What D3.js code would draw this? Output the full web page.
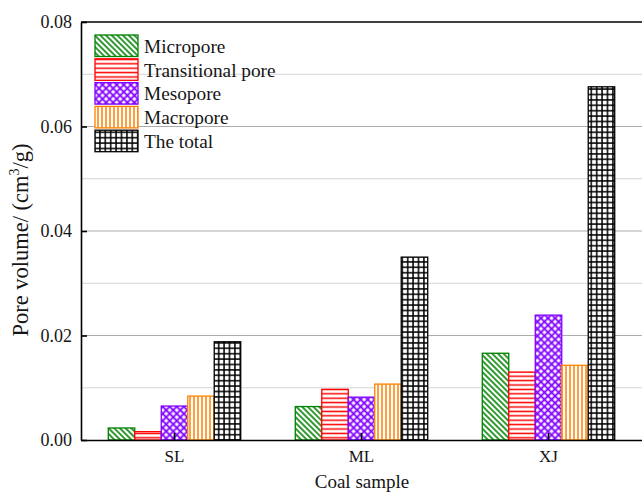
<!DOCTYPE html>
<html><head><meta charset="utf-8">
<script src="https://cdn.jsdelivr.net/npm/d3@7"></script>
<style>
body{margin:0;background:#fff}
svg, svg text{font-family:"Times New Roman","Liberation Serif",Tinos,Times,"DejaVu Serif","Noto Serif",serif !important}
</style></head><body>
<script>
const categories = ["SL", "ML", "XJ"];
const seriesNames = ["Micropore", "Transitional pore", "Mesopore", "Macropore", "The total"];
const micropore = [0.0023, 0.0064, 0.0166];
const transitional = [0.0016, 0.0097, 0.0130];
const mesopore = [0.0065, 0.0082, 0.0239];
const macropore = [0.0084, 0.0107, 0.0143];
const total = [0.0188, 0.0350, 0.0676];
const yTicks = [0, 0.02, 0.04, 0.06, 0.08];
const yMinor = [0.01, 0.03, 0.05, 0.07];
const colors = ["#008000", "#ff0000", "#8000ff", "#ff8000", "#000000"];
const xTitle = "Coal sample";

const seriesValues = [micropore, transitional, mesopore, macropore, total];

const W = 642, H = 492;
const mLeft = 81, mRight = 643, mTop = 22, mBottom = 440;

const svg = d3.select("body").append("svg").attr("width", W).attr("height", H);
const defs = svg.append("defs");

function pat(id, size, rot) {
  const p = defs.append("pattern").attr("id", id).attr("patternUnits", "userSpaceOnUse")
    .attr("width", size).attr("height", size);
  if (rot) p.attr("patternTransform", `rotate(${rot})`);
  p.append("rect").attr("width", size).attr("height", size).attr("fill", "#fff");
  return p;
}
let p0 = pat("p0", 4, -45);
p0.append("line").attr("x1", 2).attr("y1", -1).attr("x2", 2).attr("y2", 5).attr("stroke", colors[0]).attr("stroke-width", 1.6);
let p1 = pat("p1", 4.4, 0);
p1.append("line").attr("x1", -1).attr("y1", 2.2).attr("x2", 6).attr("y2", 2.2).attr("stroke", colors[1]).attr("stroke-width", 1.5);
let p2 = pat("p2", 5, 45);
p2.append("line").attr("x1", 2.5).attr("y1", -1).attr("x2", 2.5).attr("y2", 6).attr("stroke", colors[2]).attr("stroke-width", 1.8);
p2.append("line").attr("x1", -1).attr("y1", 2.5).attr("x2", 6).attr("y2", 2.5).attr("stroke", colors[2]).attr("stroke-width", 1.8);
let p3 = pat("p3", 4, 0);
p3.append("line").attr("x1", 2).attr("y1", -1).attr("x2", 2).attr("y2", 5).attr("stroke", colors[3]).attr("stroke-width", 1.5);
let p4 = pat("p4", 5.4, 0);
p4.append("line").attr("x1", 2.7).attr("y1", -1).attr("x2", 2.7).attr("y2", 7).attr("stroke", colors[4]).attr("stroke-width", 1.5);
p4.append("line").attr("x1", -1).attr("y1", 2.7).attr("x2", 7).attr("y2", 2.7).attr("stroke", colors[4]).attr("stroke-width", 1.5);

const y = d3.scaleLinear().domain([0, 0.08]).range([mBottom, mTop]);
const x0 = d3.scaleBand().domain(categories).range([mLeft, 642]).paddingInner(0).paddingOuter(0);
const x1 = d3.scaleBand().domain(seriesNames).range([0, x0.bandwidth()]).paddingInner(0).paddingOuter(1.03);

svg.append("g").selectAll("line").data(yMinor).join("line")
  .attr("x1", mLeft).attr("x2", mRight).attr("y1", d => y(d)).attr("y2", d => y(d))
  .attr("stroke", "#d4d4d4").attr("stroke-width", 1);
svg.append("g").selectAll("line").data(yTicks.filter(d => d > 0 && d < 0.08)).join("line")
  .attr("x1", mLeft).attr("x2", mRight).attr("y1", d => y(d)).attr("y2", d => y(d))
  .attr("stroke", "#ababab").attr("stroke-width", 1);

seriesNames.forEach((s, si) => {
  svg.append("g").selectAll("rect").data(seriesValues[si]).join("rect")
    .attr("x", (d, i) => x0(categories[i]) + x1(s))
    .attr("y", d => y(d))
    .attr("width", x1.bandwidth())
    .attr("height", d => mBottom - y(d))
    .attr("fill", `url(#p${si})`)
    .attr("stroke", colors[si]).attr("stroke-width", 1.3);
});

const yAxis = svg.append("g").attr("transform", `translate(${mLeft},0)`)
  .call(d3.axisLeft(y).tickValues(yTicks).tickSize(-6).tickSizeOuter(0).tickPadding(9).tickFormat(d3.format(".2f")));
yAxis.attr("font-family", null);
yAxis.selectAll("text").attr("font-size", 18).attr("fill", "#151515");
yAxis.selectAll("line,path").attr("stroke", "#000").attr("stroke-width", 1.6);

const xAxis = svg.append("g").attr("transform", `translate(0,${mBottom})`)
  .call(d3.axisBottom(x0).tickSize(-7).tickSizeOuter(0).tickPadding(10));
xAxis.attr("font-family", null);
xAxis.selectAll("text").attr("font-size", 17).attr("fill", "#151515");
xAxis.selectAll("line,path").attr("stroke", "#000").attr("stroke-width", 1.6);

svg.append("line").attr("x1", mLeft).attr("x2", mRight).attr("y1", y(0.08)).attr("y2", y(0.08))
  .attr("stroke", "#000").attr("stroke-width", 1.6);

svg.append("text").attr("x", 362).attr("y", 488).attr("text-anchor", "middle")
  .attr("font-size", 19).attr("fill", "#151515").text(xTitle);
const yt = svg.append("text").attr("transform", "translate(28,240) rotate(-90)")
  .attr("text-anchor", "middle").attr("font-size", 22.5).attr("fill", "#151515");
yt.append("tspan").text("Pore volume/ (cm");
yt.append("tspan").attr("font-size", 14).attr("dy", -9).text("3");
yt.append("tspan").attr("dy", 9).text("/g)");

const lg = svg.append("g");
seriesNames.forEach((s, i) => {
  const yy = 35 + i * 23.8;
  lg.append("rect").attr("x", 95).attr("y", yy).attr("width", 43).attr("height", 21.5)
    .attr("fill", `url(#p${i})`).attr("stroke", colors[i]).attr("stroke-width", 1.3);
  lg.append("text").attr("x", 144).attr("y", yy + 11).attr("dy", "0.35em")
    .attr("font-size", 19.3).attr("fill", "#151515").text(s);
});
</script>
</body></html>
